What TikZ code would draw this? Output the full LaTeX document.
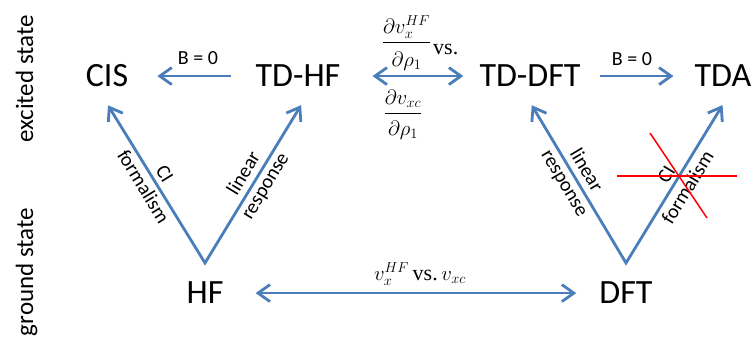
\documentclass[tikz,border=0pt]{standalone}
\usepackage[no-math]{fontspec}
\setmainfont{Carlito}
\newfontfamily\tms{Liberation Serif}
\usetikzlibrary{arrows.meta,calc}
\definecolor{lineblue}{RGB}{74,126,187}
\begin{document}
\begin{tikzpicture}[x=1pt,y=-1pt,
  >={Straight Barb[length=12pt,width=17pt]},
  big/.style={font=\fontsize{34}{40}\selectfont, inner sep=0pt, anchor=base},
  lab/.style={font=\fontsize{20}{25}\selectfont, inner sep=0pt, align=center},
  side/.style={font=\fontsize{25}{30}\selectfont, inner sep=0pt, rotate=90, anchor=base},
  mth/.style={font=\fontsize{22}{26}\selectfont, inner sep=0pt, anchor=base},
  vstext/.style={font=\tms\fontsize{22}{26}\selectfont, inner sep=0pt, anchor=base west},
  arr/.style={draw=lineblue, line width=2.8pt, ->},
  darr/.style={draw=lineblue, line width=2.8pt, <->},
  redx/.style={draw=red, line width=1.5pt}]
\useasboundingbox (0,0) rectangle (752,347);

% side labels
\node[side] (ex) at (33,79) {excited state};
\node[side] (gs) at (33,272) {ground state};

% main nodes
\node[big] (cis) at (107,87) {CIS};
\node[big] (tdhf) at (298,87) {TD-HF};
\node[big] (tddft) at (530,87) {TD-DFT};
\node[big] (tda) at (723,87) {TDA};
\node[big] (hf) at (205,304) {HF};
\node[big] (dft) at (626,304) {DFT};

\coordinate (hfv) at ([yshift=19pt]hf.north);
\coordinate (dftv) at ([yshift=19pt]dft.north);

% horizontal connectors
\draw[arr, shorten <=24pt, shorten >=29pt] (tdhf.west) -- (tdhf.west -| cis.east);
\draw[darr, shorten <=32pt, shorten >=16pt] (tdhf.east) -- (tdhf.east -| tddft.west);
\draw[arr, shorten <=19pt, shorten >=21pt] (tddft.east) -- (tddft.east -| tda.west);
\draw[darr, shorten <=32pt, shorten >=23pt] (hf.east) -- (hf.east -| dft.west);

% V connectors
\draw[darr, shorten <=21pt, shorten >=21pt] ([xshift=-10pt]cis.south) -- (hfv) -- ([xshift=14pt]tdhf.south);
\draw[darr, shorten <=21pt, shorten >=21pt] ([xshift=-9pt]tddft.south) -- (dftv) -- ([xshift=10.5pt]tda.south);

% labels
\node[lab] (b1) at (198,58) {B = 0};
\node[lab] (b2) at (632,59) {B = 0};
\node[lab, rotate=-58.5] (lci) at (154,180) {CI\\formalism};
\node[lab, rotate=58.7] (llr) at (255,180) {linear\\response};
\node[lab, rotate=-59.2] (rlr) at (575,177) {linear\\response};
\node[lab, rotate=58.5] (rci) at (677,181) {CI\\formalism};

% math labels
\node[mth] (f1) at (406.5,47.5) {$\displaystyle\frac{\partial v_x^{HF}}{\rule{0pt}{23pt}\partial\rho_1}$};
\node[vstext] (vs1) at (433,55) {vs.};
\node[mth] (f2) at (403,118.5) {$\displaystyle\frac{\partial v_{xc}}{\rule{0pt}{21pt}\partial\rho_1}$};
\node[mth] (vv) at (420,280) {$v_x^{HF}$\,{\tms vs.}\,$v_{xc}$};

% red cross
\draw[redx] (617,176) -- (737,176);
\draw[redx] (650,133) -- (707,218);
\end{tikzpicture}
\end{document}
